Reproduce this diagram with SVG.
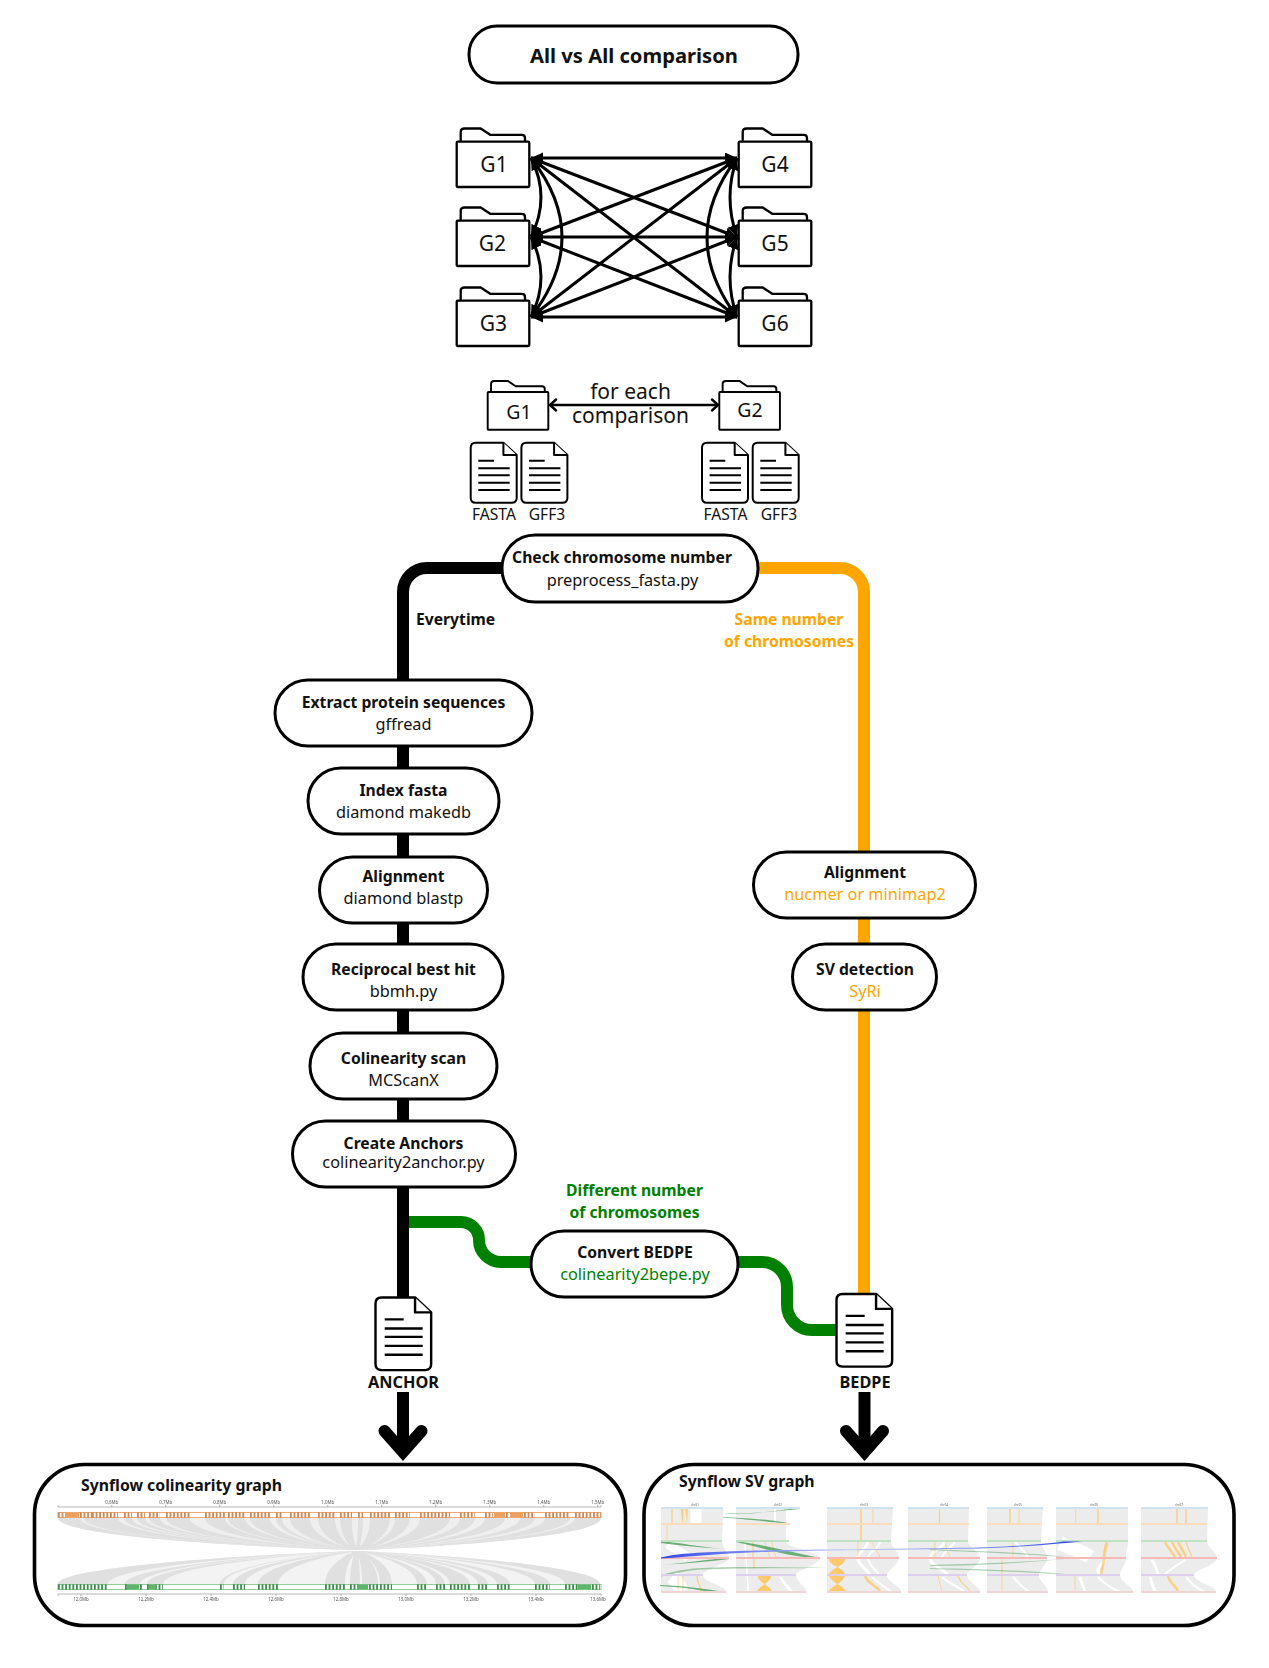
<svg xmlns="http://www.w3.org/2000/svg" width="1269" height="1668" viewBox="0 0 1269 1668">
<style>
text{font-family:"Noto Sans","Open Sans","Liberation Sans",sans-serif;fill:#111;text-anchor:middle}
.b{font-weight:700;font-size:15.7px}
.r{font-size:16.3px}
.o{fill:#ffa500}
.g{fill:#008000}
.pill{fill:#fff;stroke:#000;stroke-width:3}
.panel{fill:#fff;stroke:#000;stroke-width:3.6}
.fold{fill:#fff;stroke:#000;stroke-width:2.3;stroke-linejoin:round}
.docb{fill:#fff;stroke:#000;stroke-width:2;stroke-linejoin:round}
.docl{fill:none;stroke:#000;stroke-width:1.9}
.lab{font-size:21px}
.mid{font-size:21px}
.small{font-size:15.6px}
.fl{fill:none;stroke:#000;stroke-width:3}
.thick{fill:none;stroke-width:12}
.ax{fill:none;stroke:#999;stroke-width:.7}
text.t{font-size:4.4px;fill:#555}
text.c{font-size:3px;fill:#666}
.rib{fill:#e0e0e0}
.sil{fill:#ececec}
.wh{fill:none;stroke:#fff}
.st{fill:none;stroke:#fdc96b;opacity:.8}
.gr{fill:#3d9a4c}
</style>
<defs>
<filter id="soft" x="-2%" y="-5%" width="104%" height="110%"><feGaussianBlur stdDeviation=".4"/></filter>
<marker id="ah" markerUnits="userSpaceOnUse" markerWidth="13" markerHeight="12" refX="12" refY="5.5" orient="auto-start-reverse"><path d="M0 0L12 5.500L0 11z" fill="#000"/></marker>
<marker id="ch" markerUnits="userSpaceOnUse" markerWidth="10" markerHeight="14" refX="8" refY="7" orient="auto-start-reverse"><path d="M2 1.500L8 7L2 12.500" fill="none" stroke="#000" stroke-width="2.400" stroke-linecap="round"/></marker>
<g id="folder"><path class="fold" d="M4 13.700V4Q4 .5 8 .5H24L33.500 6.800H65Q68.300 6.800 68.300 10V13.700"/><rect class="fold" x="0" y="13.700" width="72.600" height="45.300" rx="1"/></g>
<g id="doc"><path class="docb" d="M5 0H32.700L46 12.300V55Q46 60 41 60H5Q0 60 0 55V5Q0 0 5 0Z"/><path class="docb" d="M32.700 0V12.300H46" fill="none"/><path class="docl" d="M7.600 18H23.300M7.600 25.600H39M7.600 32.600H39M7.600 40H39M7.600 47.300H39"/></g>
<linearGradient id="blue" gradientUnits="userSpaceOnUse" x1="661" y1="0" x2="1082" y2="0"><stop offset="0" stop-color="#3347e6"/><stop offset=".1" stop-color="#5468ea"/><stop offset=".45" stop-color="#c3cbf6"/><stop offset=".8" stop-color="#6f82ee"/><stop offset="1" stop-color="#2f45e6"/></linearGradient>
</defs>
<rect width="1269" height="1668" fill="#fff"/>

<g id="connectors">
<g id="all-vs-all-arrows">
<path class="fl" marker-start="url(#ah)" marker-end="url(#ah)" d="M531 158H737"/>
<path class="fl" marker-start="url(#ah)" marker-end="url(#ah)" d="M531 237H737"/>
<path class="fl" marker-start="url(#ah)" marker-end="url(#ah)" d="M531 317H737"/>
<path class="fl" marker-start="url(#ah)" marker-end="url(#ah)" d="M531 158L737 237"/>
<path class="fl" marker-start="url(#ah)" marker-end="url(#ah)" d="M531 158L737 317"/>
<path class="fl" marker-start="url(#ah)" marker-end="url(#ah)" d="M531 237L737 158"/>
<path class="fl" marker-start="url(#ah)" marker-end="url(#ah)" d="M531 237L737 317"/>
<path class="fl" marker-start="url(#ah)" marker-end="url(#ah)" d="M531 317L737 158"/>
<path class="fl" marker-start="url(#ah)" marker-end="url(#ah)" d="M531 317L737 237"/>
<path class="fl" marker-start="url(#ah)" marker-end="url(#ah)" d="M531 158Q551 197 531 237"/>
<path class="fl" marker-start="url(#ah)" marker-end="url(#ah)" d="M531 237Q551 277 531 317"/>
<path class="fl" marker-start="url(#ah)" marker-end="url(#ah)" d="M531 158Q593 237 531 317"/>
<path class="fl" marker-start="url(#ah)" marker-end="url(#ah)" d="M737 158Q723 197 737 237"/>
<path class="fl" marker-start="url(#ah)" marker-end="url(#ah)" d="M737 237Q723 277 737 317"/>
<path class="fl" marker-start="url(#ah)" marker-end="url(#ah)" d="M737 158Q677 237 737 317"/>
</g>
<path d="M550 405H718" fill="none" stroke="#000" stroke-width="2.400" marker-start="url(#ch)" marker-end="url(#ch)"/>
<path class="thick" stroke="#ffa500" d="M750 568H840A24 24 0 0 1 864 592V1298"/>
<path class="thick" stroke="#008000" d="M405 1222H461A18 18 0 0 1 479 1240A22 22 0 0 0 501 1262H535"/>
<path class="thick" stroke="#008000" d="M732 1262H762A25 25 0 0 1 787 1287V1305A25 25 0 0 0 812 1330H842"/>
<path class="thick" stroke="#000" d="M510 568H427A24 24 0 0 0 403 592V1300"/>
<path class="thick" stroke="#000" d="M403 1392V1450"/>
<path class="thick" stroke="#000" d="M864.500 1392V1450"/>
<path class="thick" stroke="#000" stroke-linecap="round" d="M384.500 1431L403 1452L421.500 1431"/>
<path class="thick" stroke="#000" stroke-linecap="round" d="M846 1431L864.500 1452L883 1431"/>
</g>

<g id="title"><rect class="pill" x="469" y="26" width="329" height="57" rx="28"/><text x="634" y="63" style="font-size:20.200px;font-weight:700">All vs All comparison</text></g>

<g id="G1"><use href="#folder" x="456.700" y="128"/><text class="lab" x="494" y="172">G1</text></g>
<g id="G2"><use href="#folder" x="456.700" y="207"/><text class="lab" x="492.300" y="251">G2</text></g>
<g id="G3"><use href="#folder" x="456.700" y="287"/><text class="lab" x="493.300" y="331">G3</text></g>
<g id="G4"><use href="#folder" x="738.700" y="128"/><text class="lab" x="775" y="172">G4</text></g>
<g id="G5"><use href="#folder" x="738.700" y="207"/><text class="lab" x="775" y="251">G5</text></g>
<g id="G6"><use href="#folder" x="738.700" y="287"/><text class="lab" x="775" y="331">G6</text></g>

<g id="pair-G1"><use href="#folder" transform="translate(487.700 380.500) scale(.835)"/><text class="lab" style="font-size:19.500px" x="519" y="419">G1</text></g>
<g id="pair-G2"><use href="#folder" transform="translate(719.300 380.500) scale(.835)"/><text class="lab" style="font-size:19.500px" x="750" y="417">G2</text></g>
<g id="pair-label"><text class="mid" x="630.500" y="399">for each</text><text class="mid" x="630.500" y="423">comparison</text></g>

<g id="fasta1"><use href="#doc" x="470.700" y="442.700"/><text class="small" x="494" y="520">FASTA</text></g>
<g id="gff1"><use href="#doc" x="521.400" y="442.700"/><text class="small" x="547" y="520">GFF3</text></g>
<g id="fasta2"><use href="#doc" x="702" y="442.700"/><text class="small" x="725.500" y="520">FASTA</text></g>
<g id="gff2"><use href="#doc" x="752.700" y="442.700"/><text class="small" x="779" y="520">GFF3</text></g>

<g id="check"><rect class="pill" x="502" y="535" width="256" height="67" rx="33"/><text class="b" x="622" y="563">Check chromosome number</text><text class="r" x="622.500" y="586">preprocess_fasta.py</text></g>
<text class="b" x="416" y="625" style="text-anchor:start">Everytime</text>
<text class="b o" x="789" y="625">Same number</text>
<text class="b o" x="789" y="647">of chromosomes</text>

<g id="extract"><rect class="pill" x="275" y="680" width="257" height="66" rx="33"/><text class="b" x="403.500" y="708">Extract protein sequences</text><text class="r" x="403.500" y="730">gffread</text></g>
<g id="index"><rect class="pill" x="308" y="768" width="191" height="66" rx="33"/><text class="b" x="403.500" y="796">Index fasta</text><text class="r" x="403.500" y="818">diamond makedb</text></g>
<g id="align1"><rect class="pill" x="319.500" y="857" width="168" height="66" rx="33"/><text class="b" x="403.500" y="882">Alignment</text><text class="r" x="403.500" y="904">diamond blastp</text></g>
<g id="rbh"><rect class="pill" x="303" y="944" width="200" height="66" rx="33"/><text class="b" x="403.500" y="975">Reciprocal best hit</text><text class="r" x="403.500" y="997">bbmh.py</text></g>
<g id="scan"><rect class="pill" x="310" y="1033" width="187" height="66" rx="33"/><text class="b" x="403.500" y="1064">Colinearity scan</text><text class="r" x="403.500" y="1086">MCScanX</text></g>
<g id="anchors"><rect class="pill" x="292.500" y="1121" width="223" height="66" rx="33"/><text class="b" x="403.500" y="1149">Create Anchors</text><text class="r" x="403.500" y="1168">colinearity2anchor.py</text></g>

<g id="align2"><rect class="pill" x="753.500" y="852" width="222" height="66" rx="33"/><text class="b" x="865" y="878">Alignment</text><text class="r o" x="865" y="900">nucmer or minimap2</text></g>
<g id="sv"><rect class="pill" x="792.500" y="944" width="144" height="66" rx="33"/><text class="b" x="865" y="975">SV detection</text><text class="r o" x="865" y="997">SyRi</text></g>

<text class="b g" x="634.500" y="1196">Different number</text>
<text class="b g" x="634.500" y="1218">of chromosomes</text>
<g id="convert"><rect class="pill" x="531" y="1231" width="207" height="66" rx="33"/><text class="b" x="635" y="1258">Convert BEDPE</text><text class="r g" x="635" y="1280">colinearity2bepe.py</text></g>

<g id="anchor-file"><use href="#doc" transform="translate(375.500 1297.500) scale(1.210)"/><text class="b" x="403.500" y="1388" style="font-size:16.300px">ANCHOR</text></g>
<g id="bedpe-file"><use href="#doc" transform="translate(836.500 1294) scale(1.210)"/><text class="b" x="865" y="1388" style="font-size:16.300px">BEDPE</text></g>

<g id="panel-colinearity">
<rect class="panel" x="34.500" y="1464.500" width="591" height="161" rx="50"/>
<text class="b" x="81" y="1491" style="text-anchor:start;font-size:15.800px">Synflow colinearity graph</text>
<g filter="url(#soft)">
<path fill="#efefef" d="M58 1518C58 1535 222 1546 355 1550L359 1550C467 1546 601 1535 601 1518Z"/>
<path fill="#f3f3f3" d="M58 1584C58 1568 222 1556 355 1551L359 1551C466 1556 600 1568 600 1584Z"/>
<g class="rib">
<path d="M58 1518C58 1535 222 1546 355 1550L359 1550C232 1546 80 1535 80 1518Z"/>
<path d="M84 1518C84 1535 234 1546 355 1550L359 1550C250 1546 118 1535 118 1518Z"/>
<path d="M124 1518C124 1535 252 1546 355 1550L359 1550C256 1546 132 1535 132 1518Z"/>
<path d="M137 1518C137 1535 258 1546 355 1550L359 1550C262 1546 145 1535 145 1518Z"/>
<path d="M149 1518C149 1535 263 1546 355 1550L359 1550C268 1546 160 1535 160 1518Z"/>
<path d="M166 1518C166 1535 271 1546 355 1550L359 1550C282 1546 190 1535 190 1518Z"/>
<path d="M205 1518C205 1535 289 1546 355 1550L359 1550C298 1546 225 1535 225 1518Z"/>
<path d="M228 1518C228 1535 299 1546 355 1550L359 1550C307 1546 245 1535 245 1518Z"/>
<path d="M250 1518C250 1535 309 1546 355 1550L359 1550C318 1546 270 1535 270 1518Z"/>
<path d="M276 1518C276 1535 321 1546 355 1550L359 1550C323 1546 282 1535 282 1518Z"/>
<path d="M290 1518C290 1535 327 1546 355 1550L359 1550C336 1546 310 1535 310 1518Z"/>
<path d="M318 1518C318 1535 339 1546 355 1550L359 1550C347 1546 335 1535 335 1518Z"/>
<path d="M340 1518C340 1535 349 1546 355 1550L359 1550C354 1546 352 1535 352 1518Z"/>
<path d="M358 1518C358 1535 357 1546 355 1550L359 1550C360 1546 363 1535 363 1518Z"/>
<path d="M370 1518C370 1535 363 1546 355 1550L359 1550C372 1546 390 1535 390 1518Z"/>
<path d="M395 1518C395 1535 374 1546 355 1550L359 1550C381 1546 410 1535 410 1518Z"/>
<path d="M420 1518C420 1535 385 1546 355 1550L359 1550C399 1546 450 1535 450 1518Z"/>
<path d="M460 1518C460 1535 403 1546 355 1550L359 1550C410 1546 475 1535 475 1518Z"/>
<path d="M485 1518C485 1535 415 1546 355 1550L359 1550C424 1546 505 1535 505 1518Z"/>
<path d="M520 1518C520 1535 430 1546 355 1550L359 1550C437 1546 535 1535 535 1518Z"/>
<path d="M545 1518C545 1535 442 1546 355 1550L359 1550C453 1546 570 1535 570 1518Z"/>
<path d="M575 1518C575 1535 455 1546 355 1550L359 1550C467 1546 601 1535 601 1518Z"/>
<path d="M58 1584C58 1568 222 1556 355 1551L359 1551C245 1556 108 1568 108 1584Z"/>
<path d="M125 1584C125 1568 253 1556 355 1551L359 1551C259 1556 140 1568 140 1584Z"/>
<path d="M147 1584C147 1568 263 1556 355 1551L359 1551C270 1556 163 1568 163 1584Z"/>
<path d="M220 1584C220 1568 295 1556 355 1551L359 1551C297 1556 224 1568 224 1584Z"/>
<path d="M233 1584C233 1568 301 1556 355 1551L359 1551C307 1556 245 1568 245 1584Z"/>
<path d="M258 1584C258 1568 312 1556 355 1551L359 1551C321 1556 278 1568 278 1584Z"/>
<path d="M325 1584C325 1568 343 1556 355 1551L359 1551C350 1556 345 1568 345 1584Z"/>
<path d="M350 1584C350 1568 353 1556 355 1551L359 1551C358 1556 360 1568 360 1584Z"/>
<path d="M362 1584C362 1568 360 1556 355 1551L359 1551C369 1556 378 1568 378 1584Z"/>
<path d="M380 1584C380 1568 370 1556 355 1551L359 1551C376 1556 392 1568 392 1584Z"/>
<path d="M417 1584C417 1568 384 1556 355 1551L359 1551C388 1556 427 1568 427 1584Z"/>
<path d="M436 1584C436 1568 393 1556 355 1551L359 1551C397 1556 445 1568 445 1584Z"/>
<path d="M450 1584C450 1568 399 1556 355 1551L359 1551C408 1556 470 1568 470 1584Z"/>
<path d="M478 1584C478 1568 411 1556 355 1551L359 1551C416 1556 488 1568 488 1584Z"/>
<path d="M497 1584C497 1568 420 1556 355 1551L359 1551C426 1556 510 1568 510 1584Z"/>
<path d="M535 1584C535 1568 437 1556 355 1551L359 1551C443 1556 550 1568 550 1584Z"/>
<path d="M565 1584C565 1568 451 1556 355 1551L359 1551C466 1556 600 1568 600 1584Z"/>
</g>
<rect x="58" y="1512.500" width="543" height="5" fill="#fff" stroke="#f4a86e" stroke-width="1"/>
<path fill="none" stroke="#c98a58" stroke-width="5.500" stroke-dasharray="1.800 1.800" d="M58 1515H64M80 1515H92M92 1515H118M124 1515H132M137 1515H145M149 1515H160M166 1515H190M205 1515H225M228 1515H245M250 1515H270M276 1515H282M290 1515H310M318 1515H335M340 1515H352M358 1515H363M370 1515H390M395 1515H410M420 1515H450M460 1515H475M485 1515H493M506 1515H509M524 1515H535M545 1515H570M575 1515H601"/>
<path fill="#ed9f62" d="M65 1512.500h14v5h-14zM494 1512.500h11v5h-11zM510 1512.500h13v5h-13z"/>
<rect x="58" y="1584.500" width="543" height="5" fill="#fff" stroke="#8fce95" stroke-width="1"/>
<path fill="none" stroke="#3f8a4e" stroke-width="5.500" stroke-dasharray="1.800 1.800" d="M58 1587H108M125 1587H127M140 1587H143M147 1587H149M155 1587H163M220 1587H224M233 1587H245M258 1587H278M325 1587H345M350 1587H360M369 1587H378M380 1587H392M417 1587H427M436 1587H445M450 1587H470M478 1587H488M497 1587H510M535 1587H550M565 1587H578M592 1587H600"/>
<path fill="#5fb36a" d="M127 1584.500h12v5h-12zM149 1584.500h7v5h-7zM357 1584.500h11v5h-11zM578 1584.500h13v5h-13z"/>
<path class="ax" d="M58 1507H601M58 1505V1507M111.700 1505V1507M165.700 1505V1507M219.700 1505V1507M273.700 1505V1507M327.700 1505V1507M381.700 1505V1507M435.700 1505V1507M489.700 1505V1507M543.700 1505V1507M597.700 1505V1507M601 1505V1507"/>
<path class="ax" d="M58 1594H601M58 1594V1596M81 1594V1596M146 1594V1596M211 1594V1596M276 1594V1596M341 1594V1596M406 1594V1596M471 1594V1596M536 1594V1596M601 1594V1596"/>
<text class="t" x="111.700" y="1504">0.6Mb</text><text class="t" x="165.700" y="1504">0.7Mb</text><text class="t" x="219.700" y="1504">0.8Mb</text><text class="t" x="273.700" y="1504">0.9Mb</text><text class="t" x="327.700" y="1504">1.0Mb</text><text class="t" x="381.700" y="1504">1.1Mb</text><text class="t" x="435.700" y="1504">1.2Mb</text><text class="t" x="489.700" y="1504">1.3Mb</text><text class="t" x="543.700" y="1504">1.4Mb</text><text class="t" x="597.700" y="1504">1.5Mb</text>
<text class="t" x="81" y="1600.500">12.0Mb</text><text class="t" x="146" y="1600.500">12.2Mb</text><text class="t" x="211" y="1600.500">12.4Mb</text><text class="t" x="276" y="1600.500">12.6Mb</text><text class="t" x="341" y="1600.500">12.8Mb</text><text class="t" x="406" y="1600.500">13.0Mb</text><text class="t" x="471" y="1600.500">13.2Mb</text><text class="t" x="536" y="1600.500">13.4Mb</text><text class="t" x="598" y="1600.500">13.6Mb</text>
</g>
</g>

<g id="panel-sv">
<rect class="panel" x="644" y="1464.500" width="590" height="161" rx="50"/>
<text class="b" x="679" y="1487" style="text-anchor:start;font-size:15.800px">Synflow SV graph</text>
<g filter="url(#soft)">
<g class="sil">
<path d="M661 1508H723V1524L722 1541C722 1548 729 1552 729 1558C729 1564 703 1569 703 1575C703 1582 726 1586 726 1592H661Z"/>
<path d="M736 1508H786V1541C786 1548 816 1551 820 1558C820 1565 796 1570 796 1575C796 1582 806 1586 806 1592H736Z"/>
<path d="M827 1508H893L891 1541C891 1548 899 1551 899 1558C899 1565 887 1570 887 1575C887 1582 901 1586 901 1592H827Z"/>
<path d="M908 1508H969L968 1541C968 1548 980 1551 980 1558C980 1565 967 1570 967 1575C967 1582 980 1586 980 1592H908Z"/>
<path d="M987 1508H1043L1041 1541C1041 1548 1047 1551 1047 1558C1047 1565 1039 1570 1039 1575C1039 1582 1048 1586 1048 1592H987Z"/>
<path d="M1056 1508H1128V1541C1128 1548 1126 1551 1126 1558C1126 1565 1120 1570 1120 1575C1120 1582 1133 1586 1133 1592H1056Z"/>
<path d="M1141 1508H1208L1207 1541C1207 1548 1217 1551 1217 1558C1217 1565 1194 1570 1194 1575C1194 1582 1216 1586 1216 1592H1141Z"/>
</g>
<g class="wh">
<path stroke-width="11" d="M696 1509V1523"/>
<path stroke-width="14" d="M672 1577C680 1584 680 1588 682 1592"/>
<path stroke-width="9" d="M668 1544C676 1550 684 1554 688 1558"/>
<path stroke-width="1.500" d="M745 1542C745 1555 748 1575 748 1591"/>
<path stroke-width="2" d="M775 1509V1524"/>
<path stroke-width="3" d="M780 1577C785 1584 788 1588 792 1592"/>
<path stroke-width="3" d="M868 1542C866 1550 858 1552 858 1558C858 1565 868 1570 870 1575"/>
<path stroke-width="2" d="M880 1542C878 1550 868 1552 868 1558C868 1565 877 1570 879 1575"/>
<path stroke-width="2" d="M872 1577C880 1584 885 1588 892 1592"/>
<path stroke-width="3" d="M945 1542C940 1550 930 1552 930 1558C930 1565 945 1570 948 1575"/>
<path stroke-width="2" d="M955 1542C950 1550 942 1552 942 1558"/>
<path stroke-width="2" d="M942 1577C950 1584 960 1588 965 1592"/>
<path stroke-width="2" d="M1015 1542C1022 1550 1026 1552 1028 1558"/>
<path stroke-width="2" d="M1013 1577C1020 1584 1022 1588 1030 1592"/>
<path stroke-width="14" d="M1060 1543C1075 1550 1085 1553 1090 1557"/>
<path stroke-width="3" d="M1080 1577C1082 1584 1084 1588 1085 1592"/>
<path stroke-width="2" d="M1098 1577C1105 1584 1110 1588 1120 1592"/>
<path stroke-width="3" d="M1105 1560C1100 1566 1095 1570 1100 1574"/>
<path stroke-width="3" d="M1152 1560C1156 1566 1157 1570 1158 1574"/>
<path stroke-width="3" d="M1150 1577C1152 1584 1154 1588 1155 1592"/>
<path stroke-width="2" d="M1185 1560C1175 1566 1170 1570 1165 1574"/>
<path stroke-width="2" d="M1186 1577C1192 1584 1196 1588 1205 1592"/>
</g>
<g class="st">
<path stroke-width="1.200" d="M672 1508V1524"/>
<path fill="#fdc96b" stroke="none" d="M680.500 1508H684L683 1524H682.500ZM685 1508H688L687 1524Z"/>
<path stroke-width=".8" d="M667 1525V1540M678 1576V1591M683 1576V1591"/>
<path stroke-width="1.200" d="M697 1576C697 1584 701 1586 701 1591"/>
<path stroke-width="1.200" d="M753 1542V1558M754 1559V1568"/>
<path stroke-width=".8" d="M765 1542C766 1548 768 1552 770 1557M772 1542C773 1548 774 1552 776 1557"/>
<path stroke-width="1.600" d="M861 1508V1541"/>
<path stroke-width=".8" d="M873 1508V1524M858 1542V1557M872 1542C874 1548 878 1552 880 1557"/>
<path stroke-width="2.500" d="M865 1576C868 1584 877 1586 880 1591"/>
<path stroke-width="1.200" d="M939.500 1508V1524"/>
<path stroke-width=".8" d="M935 1542V1557M945 1542C946 1548 948 1552 950 1557M938 1576C939 1582 941 1586 942 1591"/>
<path stroke-width="1.200" d="M958 1576C961 1584 967 1586 970 1591"/>
<path stroke-width="1.500" d="M1010 1508V1524"/>
<path stroke-width=".8" d="M1019 1508V1524M1013 1542V1557M1002 1559V1591"/>
<path stroke-width=".8" d="M1075.700 1508V1524M1075 1576V1591"/>
<path stroke-width="1.500" d="M1098 1508V1524"/>
<path stroke-width="3" d="M1107 1542C1105 1548 1105 1552 1104 1557"/>
<path stroke-width="2.500" d="M1104 1559C1103 1566 1102 1570 1101 1574"/>
<path stroke-width="1.500" d="M1177 1508V1524M1186 1508V1524"/>
<path stroke-width="2.500" d="M1165 1542C1168 1548 1172 1552 1175 1557M1172 1542C1175 1548 1178 1552 1181 1557M1178 1542C1181 1548 1184 1552 1186 1557"/>
<path stroke-width="1.200" d="M1186 1542C1188 1548 1190 1552 1192 1557"/>
<path stroke-width="2.500" d="M1168 1576C1170 1584 1176 1586 1178 1591"/>
</g>
<g fill="#fdc96b">
<path d="M829 1559H845C845 1563 841 1565 837.500 1567C841 1569 845 1572 845 1575C845 1578 841 1582 837.500 1584C841 1586 846 1589 846 1592H829C829 1589 834 1586 837.500 1584C834 1582 829 1578 829 1575C829 1572 834 1569 837.500 1567C834 1565 829 1563 829 1559Z"/>
<path d="M758 1576H771C771 1580 767 1582 764.500 1584C767 1586 772 1589 772 1592H757C757 1589 762 1586 764.500 1584C762 1582 758 1580 758 1576Z"/>
</g>
<g class="gr" opacity=".75">
<path d="M800 1507C770 1513 745 1514 723 1513.500C745 1515.500 775 1511 800 1509Z"/>
<path d="M723 1517C745 1518.500 770 1519 790 1523.500L770 1522C755 1520 735 1518.500 723 1517.500Z"/>
<path d="M661 1541C680 1543 695 1546 723 1549C695 1547 675 1545 661 1543Z"/>
<path d="M736 1541C770 1546 795 1553 820 1558C790 1558 765 1548 736 1542Z"/>
<path d="M729 1558C710 1559 695 1562 661 1565L690 1563C705 1562 720 1560 729 1559Z"/>
<path opacity=".6" d="M661 1575C675 1571 690 1568 703 1568C745 1566 790 1568 826 1567.500C790 1569 745 1567.500 703 1569.500C690 1570 675 1573 661 1576.500Z"/>
<path d="M660 1585C685 1586 705 1589 726 1592L710 1592C695 1589 680 1587 660 1586Z"/>
<path opacity=".55" d="M930 1549C970 1551 1030 1552 1073 1558C1030 1554 970 1552 930 1550Z"/>
<path opacity=".55" d="M930 1565C970 1564 1030 1562 1073 1558C1030 1563 970 1566 930 1566Z"/>
<path opacity=".55" d="M930 1568C970 1569 1030 1570 1073 1575C1030 1572 970 1570 930 1569Z"/>
</g>
<g fill="none" stroke-width="1.800">
<path stroke="#cfe3f1" d="M661 1508H723M736 1508H800M827 1508H893M908 1508H969M987 1508H1043M1056 1508H1128M1141 1508H1208"/>
<path stroke="#fbdcbc" d="M661 1524H722M736 1524H790M827 1524H892M908 1524H969M987 1524H1041M1056 1524H1128M1141 1524H1207"/>
<path stroke="#bfe2c2" d="M661 1541H722M736 1541H789M827 1541H891M908 1541H968M987 1541H1041M1056 1541H1128M1141 1541H1207"/>
<path stroke="#f7b8b8" d="M661 1558H729M736 1558H820M827 1558H899M908 1558H980M987 1558H1047M1056 1558H1126M1141 1558H1217"/>
<path stroke="#dcd0ee" d="M661 1575H703M736 1575H796M827 1575H887M908 1575H967M987 1575H1039M1056 1575H1120M1141 1575H1194"/>
<path stroke="#efd6d6" d="M661 1592H726M736 1592H806M827 1592H901M908 1592H980M987 1592H1048M1056 1592H1133M1141 1592H1216"/>
</g>
<path fill="url(#blue)" d="M661 1557.500C680 1553 700 1552.500 740 1551C790 1549.500 900 1549 963 1547.800C1000 1547 1040 1545 1063 1541.500L1082 1541.500C1050 1544.500 1010 1548 963 1548.800C900 1550 790 1550.500 740 1553C710 1554.500 685 1557 661 1558.500Z"/>
<text class="c" x="695" y="1505.500">chr01</text><text class="c" x="778" y="1505.500">chr02</text><text class="c" x="864" y="1505.500">chr03</text><text class="c" x="944" y="1505.500">chr04</text><text class="c" x="1018" y="1505.500">chr05</text><text class="c" x="1094" y="1505.500">chr06</text><text class="c" x="1179" y="1505.500">chr07</text>
</g>
</g>
</svg>
